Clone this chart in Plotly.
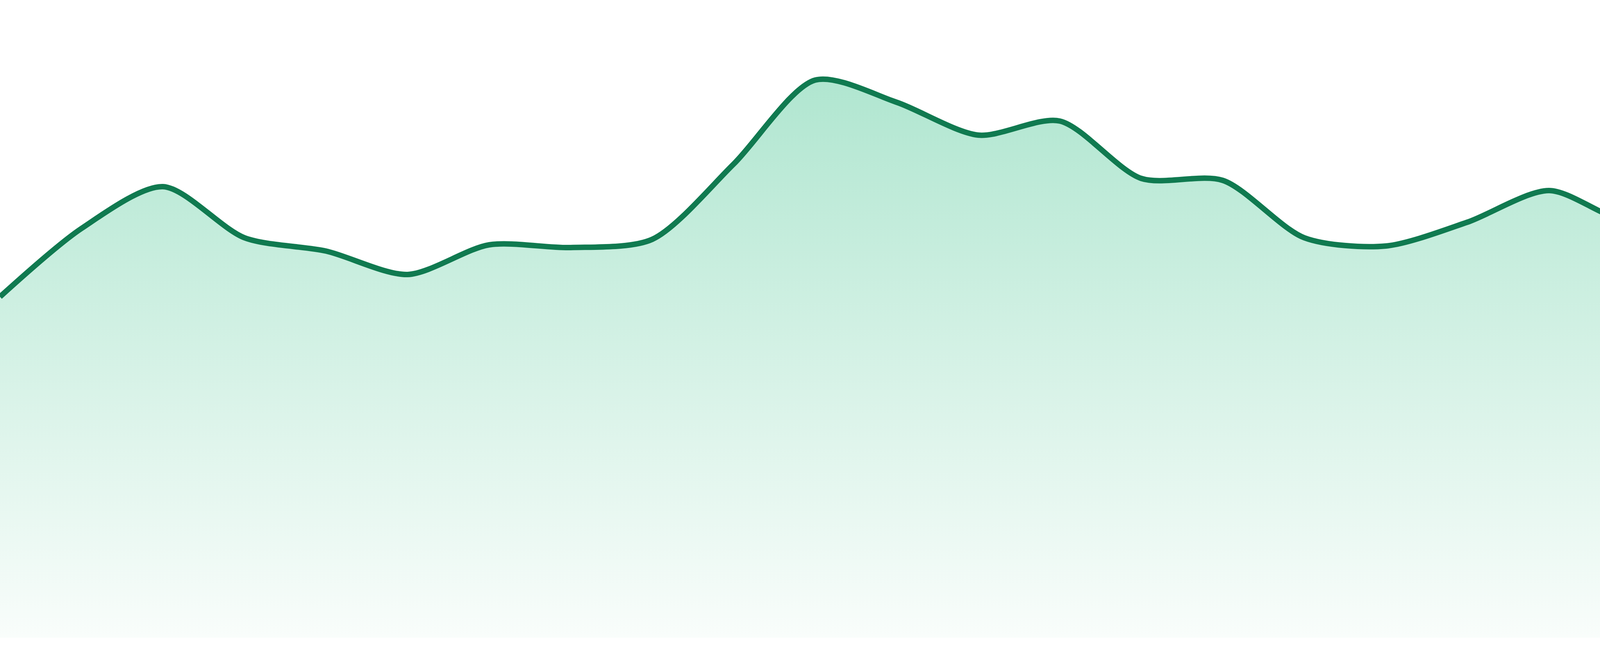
import plotly.graph_objects as go

# (one point every ~209 px, 24 points)
x_index = list(range(24))
values = [87.3, 104.8, 115.5, 102.4, 99.0, 93.0, 100.6, 99.9, 102.0, 121.3,
          142.8, 137.1, 128.7, 132.3, 117.6, 117.1, 102.4, 100.3, 106.4, 114.5,
          106.6, 114.8, 129.5, 119.5]

line_color = "#107a50"
fill_top = "rgb(176,230,208)"
fill_bottom = "rgb(249,253,251)"

fig = go.Figure()
fig.add_trace(go.Scatter(
    x=x_index,
    y=values,
    mode="lines",
    line=dict(color=line_color, width=14, shape="spline", smoothing=0.8),
    fill="tozeroy",
    fillgradient=dict(type="vertical",
                      colorscale=[[0, fill_bottom], [1, fill_top]]),
    hoverinfo="skip",
    showlegend=False,
))

fig.update_layout(
    width=4800, height=1680,
    margin=dict(l=0, r=0, t=0, b=47, pad=0),
    paper_bgcolor="white", plot_bgcolor="white",
    xaxis=dict(range=[0, 23], visible=False, fixedrange=True),
    yaxis=dict(range=[0, 163.3], visible=False, fixedrange=True),
)

fig.write_html(
    "out.html",
    config={"displayModeBar": False},
    post_script="document.body.style.margin='0';document.body.style.overflow='hidden';",
)
